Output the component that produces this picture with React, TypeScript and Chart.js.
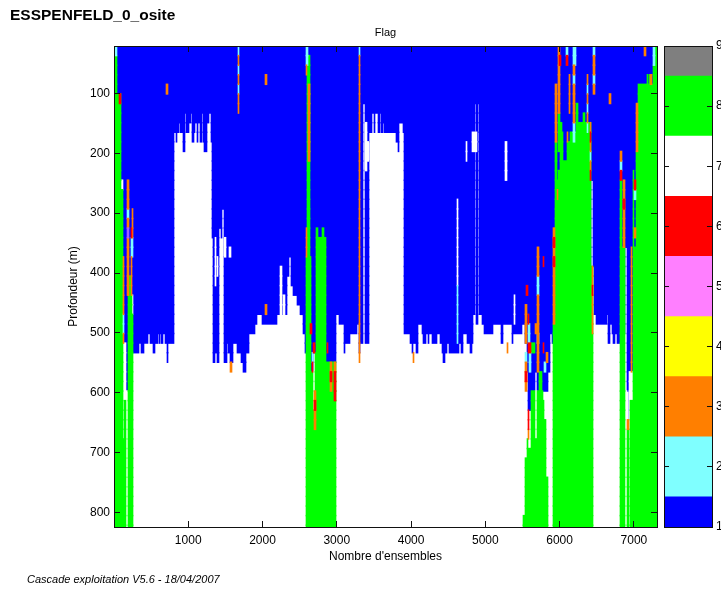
import React, { useEffect, useRef } from "react";
import { Chart, registerables } from "chart.js";

Chart.register(...registerables);

const FONT = "'Liberation Sans', Arial, sans-serif";
const chartTitle = "ESSPENFELD_0_osite";
const panelTitle = "Flag";
const xTitle = "Nombre d'ensembles";
const yTitle = "Profondeur (m)";
const footerText = "Cascade exploitation V5.6 - 18/04/2007";

const xTickValues = [1000, 2000, 3000, 4000, 5000, 6000, 7000];
const yTickValues = [100, 200, 300, 400, 500, 600, 700, 800];
const flagLevels = [1, 2, 3, 4, 5, 6, 7, 8, 9];
const flagColors = ["#0000ff", "#7fffff", "#ff7f00", "#ffff00", "#ff7fff", "#ff0000", "#ffffff", "#00ff00", "#7f7f7f"];
const flagBandLow = [1, 1.5, 2.5, 3.5, 4.5, 5.5, 6.5, 7.5, 8.5];
const flagBandHigh = [1.5, 2.5, 3.5, 4.5, 5.5, 6.5, 7.5, 8.5, 9];

// Blue (flag 1): each run ends at an ensemble and reaches down to a depth
const blueRunEnd = [
  176, 252, 329, 356, 401, 455, 477, 514, 541, 581, 604, 617, 631, 649, 685, 703, 725, 806,
  829, 847, 869, 887, 919, 946, 968, 1009, 1027, 1050, 1072, 1090, 1113, 1131, 1153, 1176, 1198, 1212, 1252, 1275, 1297, 1315,
  1333, 1356, 1378, 1414, 1437, 1455, 1477, 1514, 1532, 1559, 1604, 1649, 1703, 1739, 1770, 1820, 1896, 1919, 1986, 2032, 2189, 2234,
  2333, 2360, 2378, 2414, 2459, 2505, 2541, 2572, 2586, 2649, 2685, 2721, 2856, 2991,
  3025, 3095, 3118, 3180, 3270, 3300, 3315, 3356, 3378, 3437, 3473, 3500, 3518, 3559, 3581, 3599, 3622, 3644, 3802, 3824, 3847, 3892,
  3914, 3991, 4014, 4027, 4072, 4104, 4149, 4171, 4207, 4230, 4252, 4284, 4360, 4396, 4428, 4441, 4464, 4495, 4523, 4658, 4680, 4703,
  4766, 4802, 4829, 4847, 4869, 4883, 4910, 4928, 4964, 4991, 5108, 5216, 5243, 5252, 5365, 5387, 5500, 5545, 5568, 5590, 5680, 5703,
  5851, 5883, 5905, 5928, 5950, 6441, 6459, 6482, 6505, 6649, 6671, 6694, 6716, 6739, 6761, 6784, 6829, 6896, 6919, 6946, 7000, 7311,
];
const blueRunDepth = [
  597, 533, 533, 517, 533, 517, 501, 517, 533, 517, 501, 517, 501, 517, 501, 517, 549, 517,
  165, 181, 165, 149, 165, 197, 133, 165, 149, 133, 181, 165, 149, 181, 149, 181, 133, 181, 197, 149, 133, 181,
  341, 549, 533, 549, 325, 341, 293, 549, 517, 533, 549, 517, 533, 549, 565, 533, 501, 485, 469, 485, 485, 469,
  469, 405, 373, 421, 437, 453, 469, 501, 533, 373, 565, 533, 341, 549,
  469, 485, 533, 517, 501, 485, 533, 517, 117, 517, 165, 133, 165, 133, 165, 133, 165, 149, 165, 181, 197, 149, 165,
  501, 517, 533, 517, 533, 485, 501, 517, 501, 517, 501, 517, 501, 517, 533, 549, 533, 517, 533, 517, 533, 501,
  517, 533, 517, 469, 117, 485, 117, 469, 485, 501, 485, 517, 421, 485, 517, 501, 485, 517, 565, 629, 565, 597,
  565, 501, 517, 501, 485, 245, 389, 469, 485, 469, 517, 485, 501, 517, 501, 517, 501, 357, 597, 645, 565, 357,
];

// Cells: first ensemble, last ensemble, top depth, bottom depth
const whiteCells = [
  [81, 108, 245, 261], [113, 153, 517, 613], [113, 126, 613, 677], [153, 176, 597, 821], [230, 252, 437, 469],
  [1351, 1373, 341, 421], [1378, 1400, 373, 405], [1477, 1500, 341, 373], [1545, 1568, 357, 373],
  [2234, 2257, 389, 469], [2279, 2302, 437, 469], [2685, 2707, 565, 629],
  [3378, 3405, 149, 229], [3405, 3441, 181, 213], [4622, 4644, 277, 421], [4748, 4766, 181, 213],
  [4829, 4901, 165, 197], [5279, 5297, 181, 245], [5396, 5410, 437, 485], [5680, 5703, 597, 677],
  [6896, 6919, 597, 821], [6946, 6964, 565, 821], [6964, 7000, 565, 613],
];
const greenCells = [
  [0, 27, 37, 101], [0, 81, 101, 245], [0, 81, 245, 821], [81, 113, 261, 821], [113, 126, 677, 821], [126, 153, 613, 821],
  [189, 221, 405, 437], [176, 230, 437, 821], [230, 252, 469, 821],
  [2604, 2640, 37, 373], [2581, 2649, 373, 821], [2649, 2685, 565, 821], [2685, 2707, 629, 821], [2707, 2721, 533, 821],
  [2721, 2748, 325, 821], [2748, 2806, 341, 821], [2806, 2829, 325, 821], [2829, 2856, 341, 821], [2856, 2991, 549, 821],
  [5523, 5545, 805, 821], [5545, 5568, 709, 821], [5568, 5590, 677, 821], [5590, 5626, 693, 821], [5626, 5680, 597, 821],
  [5680, 5703, 677, 821], [5703, 5739, 597, 821], [5739, 5770, 565, 821], [5770, 5784, 597, 821], [5784, 5806, 613, 821],
  [5806, 5829, 645, 821], [5829, 5851, 741, 821], [5626, 5680, 517, 533],
  [5928, 5950, 485, 821], [5950, 5973, 181, 821], [5973, 5995, 245, 821], [5995, 6018, 133, 197], [5995, 6018, 229, 821],
  [6018, 6041, 149, 821], [6041, 6063, 165, 821], [6063, 6108, 213, 821], [6108, 6153, 181, 821], [6153, 6230, 165, 821],
  [6230, 6257, 117, 821], [6257, 6333, 149, 821], [6333, 6356, 133, 821], [6356, 6441, 149, 821], [6441, 6459, 389, 821],
  [6829, 6851, 245, 821], [6851, 6896, 357, 821], [6919, 6946, 661, 821], [6964, 7000, 613, 821], [7000, 7022, 229, 821],
  [7022, 7045, 357, 821], [7045, 7068, 197, 821], [7068, 7311, 85, 821], [7189, 7207, 69, 85], [7225, 7248, 69, 85],
  [7275, 7311, 53, 85], [7285, 7311, 21, 53],
];
const cyanCells = [
  [0, 27, 21, 37], [113, 126, 469, 501], [171, 194, 293, 309], [225, 252, 341, 373],
  [1662, 1685, 21, 37], [1662, 1685, 53, 69], [1662, 1685, 85, 101],
  [2581, 2617, 21, 53], [2662, 2685, 533, 549], [3297, 3315, 21, 37], [4622, 4644, 421, 517],
  [5545, 5568, 533, 549], [5590, 5613, 485, 517], [5604, 5626, 533, 565], [5707, 5730, 405, 437], [5703, 5730, 501, 517], [5806, 5829, 549, 565],
  [6100, 6120, 21, 37], [6198, 6230, 21, 53], [6198, 6221, 69, 85], [6198, 6221, 149, 181],
  [6381, 6401, 85, 101], [6381, 6401, 117, 133], [6381, 6401, 149, 165], [6419, 6441, 197, 213],
  [6468, 6491, 21, 37], [6468, 6491, 69, 85], [6829, 6851, 213, 229], [7022, 7045, 261, 277], [7275, 7295, 21, 53],
];
const orangeCells = [
  [113, 126, 373, 469], [113, 126, 501, 517], [171, 194, 245, 293], [171, 194, 309, 325], [171, 194, 341, 437],
  [239, 252, 293, 341], [225, 239, 373, 437], [698, 725, 85, 101], [1559, 1581, 549, 565],
  [1662, 1685, 37, 53], [1662, 1685, 69, 85], [1662, 1685, 101, 133], [2032, 2054, 69, 85], [2032, 2054, 453, 469],
  [2581, 2604, 53, 69], [2617, 2640, 85, 213], [2581, 2604, 325, 373], [2698, 2721, 597, 661],
  [2910, 2932, 549, 597], [2968, 2991, 549, 565], [3297, 3315, 37, 549], [4027, 4050, 533, 549], [5295, 5318, 517, 533],
  [5545, 5568, 453, 517], [5545, 5568, 549, 597], [5581, 5604, 661, 677], [5707, 5730, 357, 405], [5707, 5730, 437, 565],
  [5680, 5707, 485, 501], [5829, 5851, 533, 549], [5919, 5950, 325, 485],
  [5950, 5973, 85, 181], [5995, 6018, 21, 133], [5973, 5995, 261, 277], [6140, 6158, 69, 133], [6108, 6131, 165, 181], [6198, 6221, 53, 69], [6198, 6221, 85, 149],
  [6381, 6401, 69, 85], [6381, 6401, 101, 117], [6381, 6401, 133, 149], [6419, 6441, 149, 165], [6419, 6441, 181, 197], [6419, 6441, 213, 229],
  [6446, 6468, 389, 501], [6468, 6491, 37, 69], [6468, 6491, 85, 101], [6685, 6703, 101, 117],
  [6829, 6851, 197, 213], [6869, 6892, 245, 357], [6919, 6946, 645, 661], [6973, 6995, 357, 565], [7022, 7045, 325, 341],
  [7045, 7068, 117, 197], [7157, 7180, 21, 37], [7234, 7257, 69, 85],
];
const redCells = [
  [63, 81, 101, 117], [216, 234, 325, 341], [2640, 2662, 485, 501], [2662, 2685, 549, 565], [2685, 2707, 517, 533], [2698, 2721, 613, 629],
  [2874, 2887, 517, 533], [2910, 2932, 565, 581], [2968, 2991, 565, 613],
  [5545, 5568, 565, 581], [5581, 5604, 629, 661], [5581, 5626, 517, 533], [5581, 5604, 469, 485], [5558, 5581, 421, 437],
  [5784, 5806, 517, 533], [5784, 5806, 373, 389], [5919, 5950, 341, 357], [5919, 5950, 373, 389],
  [6010, 6036, 37, 53], [6100, 6120, 37, 53], [6419, 6441, 165, 181], [6419, 6441, 229, 245], [6446, 6468, 421, 437],
  [6829, 6851, 229, 245], [6869, 6892, 277, 293], [7022, 7045, 245, 261],
];
const violetCells = [[171, 194, 325, 341]];

type Cell = number[];

const X_MIN = 1;
const X_MAX = 7311;
const ENSEMBLE_STEP = X_MAX - X_MIN; // full axis span
const AREA_WIDTH = 543; // plot width, used to keep cell edges on whole screen columns

const rowDepths: number[] = [];
for (let d = 29; d <= 829; d += 16) rowDepths.push(d);

// Ensemble readings were taken with a slightly coarse ruler: calibrate, then align
function ensemble(read: number): number {
  if (read <= 0) return X_MIN;
  if (read >= X_MAX) return X_MAX;
  const calibrated = Math.min(X_MAX, 10.4 + 0.99623 * read);
  const perColumn = ENSEMBLE_STEP / AREA_WIDTH;
  return X_MIN + Math.round((calibrated - X_MIN) / perColumn) * perColumn;
}

function blueCells(): Cell[] {
  let start = 0;
  return blueRunEnd.map((end, i) => {
    const cell = [start, end, 21, blueRunDepth[i]];
    start = end;
    return cell;
  });
}

// Splits the cells into one floating bar per depth row, joining touching runs
function rowBars(cells: Cell[]) {
  const out: { x: number[]; y: number }[] = [];
  rowDepths.forEach((depth) => {
    const runs = cells
      .filter(([, , top, bottom]) => depth > top && (depth < bottom || (bottom >= 821 && depth > 821)))
      .map(([a, b]) => [ensemble(a), ensemble(b)])
      .sort((p, q) => p[0] - q[0]);
    let cur: number[] | null = null;
    runs.forEach((r) => {
      if (cur && r[0] <= cur[1] + 0.01) cur[1] = Math.max(cur[1], r[1]);
      else {
        if (cur) out.push({ x: cur, y: depth });
        cur = [r[0], r[1]];
      }
    });
    if (cur) out.push({ x: cur, y: depth });
  });
  return out;
}

const layers: [string, Cell[]][] = [
  [flagColors[0], blueCells()],
  [flagColors[6], whiteCells],
  [flagColors[7], greenCells],
  [flagColors[1], cyanCells],
  [flagColors[2], orangeCells],
  [flagColors[5], redCells],
  ["#a060ff", violetCells],
];

const LINE = "#111111";
const tickFont = { family: FONT, size: 12 };

function frameGrid(length: number) {
  return { drawOnChartArea: false, tickLength: length, tickColor: LINE, tickWidth: 1, z: 1, offset: false };
}
function fixedTicks(values: number[]) {
  return (s: any) => { s.ticks = values.map((value) => ({ value })); };
}

export default function App() {
  const mainRef = useRef<HTMLCanvasElement>(null);
  const barRef = useRef<HTMLCanvasElement>(null);

  useEffect(() => {
    const main = new Chart(mainRef.current!, {
      type: "bar",
      data: {
        datasets: layers.map(([color, cells], i) => ({
          data: rowBars(cells),
          backgroundColor: color,
          borderWidth: 0,
          grouped: false,
          order: layers.length - i,
          barThickness: 10.4,
        })),
      },
      options: {
        indexAxis: "y",
        animation: false,
        responsive: false,
        layout: { padding: { left: 10, right: 64, top: 0, bottom: 0 } },
        plugins: {
          legend: { display: false },
          tooltip: { enabled: false },
          title: {
            display: true,
            text: chartTitle,
            align: "start",
            color: "#000",
            font: { family: FONT, size: 15.5, weight: "bold" },
            padding: { top: 6.7, bottom: 0 },
          },
          subtitle: {
            display: true,
            text: panelTitle,
            fullSize: false,
            color: "#000",
            font: { family: FONT, size: 11 },
            padding: { top: 1.1, bottom: 6.4 },
          },
        },
        scales: {
          x: {
            type: "linear",
            position: "bottom",
            min: X_MIN,
            max: X_MAX,
            afterBuildTicks: fixedTicks(xTickValues),
            grid: frameGrid(-6),
            border: { color: LINE, z: 1 },
            ticks: { autoSkip: false, maxRotation: 0, color: "#000", font: tickFont, padding: 12, callback: (v: number) => String(v) },
            title: { display: true, text: xTitle, color: "#000", font: tickFont, padding: { top: 0, bottom: 25.3 } },
            afterFit: (s: any) => { s.height = 62; },
          },
          x2: {
            type: "linear",
            position: "top",
            min: X_MIN,
            max: X_MAX,
            afterBuildTicks: fixedTicks(xTickValues),
            grid: frameGrid(-6),
            border: { color: LINE, z: 1 },
            ticks: { display: false },
            afterFit: (s: any) => { s.height = 0; },
          },
          y: {
            type: "linear",
            position: "left",
            reverse: true,
            offset: false,
            min: 21,
            max: 824,
            afterBuildTicks: fixedTicks(yTickValues),
            grid: frameGrid(-6),
            border: { color: LINE, z: 1 },
            ticks: { autoSkip: false, color: "#000", font: tickFont, padding: 10, callback: (v: number) => String(v) },
            title: { display: true, text: yTitle, color: "#000", font: tickFont, padding: { top: 56.8, bottom: 0 } },
            afterFit: (s: any) => { s.width = 104; },
          },
          y2: {
            type: "linear",
            position: "right",
            reverse: true,
            offset: false,
            min: 21,
            max: 824,
            afterBuildTicks: fixedTicks(yTickValues),
            grid: frameGrid(-6),
            border: { color: LINE, z: 1 },
            ticks: { display: false },
            afterFit: (s: any) => { s.width = 0; },
          },
        },
      },
    } as any);

    const bar = new Chart(barRef.current!, {
      type: "bar",
      data: {
        labels: [panelTitle],
        datasets: flagLevels.map((_, i) => ({
          data: [[flagBandLow[i], flagBandHigh[i]]],
          backgroundColor: flagColors[i],
          borderWidth: 0,
          grouped: false,
          barPercentage: 1,
          categoryPercentage: 1,
        })),
      },
      options: {
        animation: false,
        responsive: false,
        layout: { padding: { left: 9, right: 0, top: 46, bottom: 0 } },
        plugins: { legend: { display: false }, tooltip: { enabled: false } },
        scales: {
          x: {
            grid: { display: false },
            border: { color: LINE, z: 1 },
            ticks: { display: false },
            afterFit: (s: any) => { s.height = 62; },
          },
          x2: {
            type: "category",
            position: "top",
            labels: [panelTitle],
            grid: { display: false },
            border: { color: LINE, z: 1 },
            ticks: { display: false },
            afterFit: (s: any) => { s.height = 0; },
          },
          y: {
            type: "linear",
            position: "right",
            min: 1,
            max: 9,
            afterBuildTicks: fixedTicks(flagLevels),
            grid: frameGrid(-5),
            border: { color: LINE, z: 1 },
            ticks: { autoSkip: false, color: "#000", font: tickFont, padding: 9, callback: (v: number) => String(v) },
            afterFit: (s: any) => { s.width = 9; },
          },
          y2: {
            type: "linear",
            position: "left",
            min: 1,
            max: 9,
            afterBuildTicks: fixedTicks(flagLevels),
            grid: frameGrid(-5),
            border: { color: LINE, z: 1 },
            ticks: { display: false },
            afterFit: (s: any) => { s.width = 0; },
          },
        },
      },
    } as any);

    return () => {
      main.destroy();
      bar.destroy();
    };
  }, []);

  return (
    <div style={{ position: "absolute", left: 0, top: 0, width: 721, height: 589, overflow: "hidden", background: "#fff" }}>
      <canvas ref={mainRef} width={721} height={589} style={{ position: "absolute", left: 0, top: 0, width: 721, height: 589 }} />
      <canvas ref={barRef} width={66} height={589} style={{ position: "absolute", left: 655, top: 0, width: 66, height: 589 }} />
      <div style={{ position: "absolute", left: 27, top: 573, fontFamily: FONT, fontStyle: "italic", fontSize: 11, color: "#000", whiteSpace: "nowrap" }}>
        {footerText}
      </div>
    </div>
  );
}
